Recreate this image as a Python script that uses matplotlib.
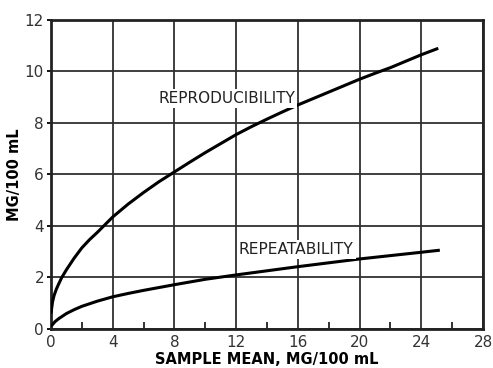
import numpy as np
import matplotlib
matplotlib.use("Agg")
import matplotlib.pyplot as plt
from matplotlib.ticker import MultipleLocator

# values
repro_x = [0, 0.1, 0.2, 0.35, 0.5, 0.7, 1, 1.5, 2, 2.5, 3, 3.5, 4, 5, 6, 7, 8, 9, 10,
           11, 12, 13, 14, 15, 16, 17, 18, 19, 20, 21, 22, 23, 24, 25.1]
repro_y = [0.6, 1.05, 1.3, 1.55, 1.75, 2.0, 2.3, 2.75, 3.15, 3.47, 3.75, 4.05, 4.35,
           4.85, 5.3, 5.72, 6.1, 6.48, 6.85, 7.2, 7.55, 7.86, 8.15, 8.43, 8.7, 8.95,
           9.2, 9.45, 9.7, 9.93, 10.15, 10.4, 10.65, 10.9]
repeat_x = [0, 0.25, 0.5, 1, 1.5, 2, 3, 4, 5, 6, 7, 8, 10, 12, 14, 16, 18, 20, 22, 24, 25.2]
repeat_y = [0.1, 0.28, 0.4, 0.6, 0.75, 0.88, 1.08, 1.25, 1.38, 1.5, 1.61, 1.72, 1.93,
            2.1, 2.26, 2.42, 2.57, 2.72, 2.85, 2.98, 3.06]

x_ticks = [0, 4, 8, 12, 16, 20, 24, 28]
y_ticks = [0, 2, 4, 6, 8, 10, 12]

fig = plt.figure(figsize=(4.93, 3.68), dpi=100)
ax = fig.add_axes([0.1034, 0.106, 0.8764, 0.8397])

ax.plot(repro_x, repro_y, color="black", lw=2.2, solid_capstyle="butt",
        solid_joinstyle="round", zorder=3)
ax.plot(repeat_x, repeat_y, color="black", lw=2.2, solid_capstyle="butt",
        solid_joinstyle="round", zorder=3)

ax.set_xlim(0, 28)
ax.set_ylim(0, 12)
ax.set_xticks(x_ticks)
ax.set_yticks(y_ticks)
ax.xaxis.set_minor_locator(MultipleLocator(2))
ax.grid(True, which="major", color="#303030", lw=1.3, zorder=1)
ax.set_axisbelow(True)

ax.tick_params(axis="x", which="major", length=0, pad=4, labelsize=11, labelcolor="#333333")
ax.tick_params(axis="x", which="minor", direction="in", length=5, width=1.3, color="#222222")
ax.tick_params(axis="y", which="major", direction="out", length=3, width=1.3,
               pad=2, labelsize=11, labelcolor="#333333")
ax.tick_params(top=False, right=False)
for s in ax.spines.values():
    s.set_linewidth(2)
    s.set_color("#222222")

ax.set_xlabel("SAMPLE MEAN, MG/100 mL", fontsize=10.5, fontweight="bold", labelpad=2)
ax.set_ylabel("MG/100 mL", fontsize=10.5, fontweight="bold", labelpad=2)

box = dict(facecolor="white", edgecolor="none", pad=1.5)
ax.text(11.4, 8.95, "REPRODUCIBILITY", ha="center", va="center", fontsize=11,
        color="#222222", bbox=box, zorder=4)
ax.text(15.9, 3.1, "REPEATABILITY", ha="center", va="center", fontsize=11.2,
        color="#222222", bbox=box, zorder=4)

fig.savefig("out.png", dpi=100)
